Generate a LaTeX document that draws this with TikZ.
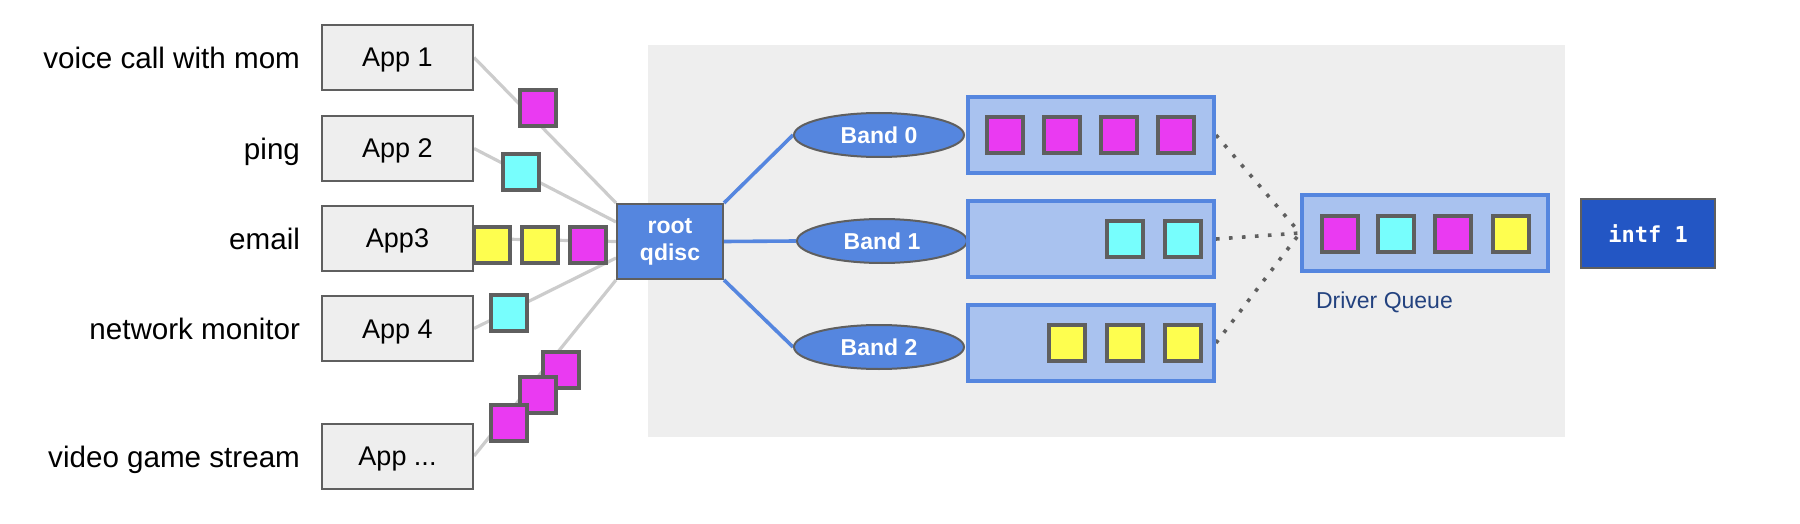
\documentclass[tikz,border=0pt]{standalone}
\usepackage{fontspec}
\setmainfont{Liberation Sans}
\setmonofont{DejaVu Sans Mono}
\usetikzlibrary{positioning,shapes.geometric,backgrounds}
\definecolor{bggray}{HTML}{EEEEEE}
\definecolor{edgegray}{HTML}{5F5F5F}
\definecolor{wiregray}{HTML}{CCCCCC}
\definecolor{pktpink}{HTML}{EA3AF2}
\definecolor{pktcyan}{HTML}{77FEFD}
\definecolor{pktyellow}{HTML}{FEFE4F}
\definecolor{qblue}{HTML}{5586DF}
\definecolor{qlight}{HTML}{A9C2EF}
\definecolor{intfblue}{HTML}{2356C4}
\definecolor{dqtext}{HTML}{23427F}

\begin{document}
\begin{tikzpicture}[x=0.5pt,y=-0.5pt,
  appbox/.style={draw=edgegray,fill=bggray,line width=1pt,minimum width=75.5pt,minimum height=32.5pt,
    text height=12.5pt,text depth=3pt,font=\fontsize{13.5}{16}\selectfont},
  applabel/.style={text height=14pt,text depth=3pt,font=\fontsize{14.8}{17}\selectfont},
  pkt/.style={draw=edgegray,line width=2pt,minimum size=18pt,inner sep=0pt},
  band/.style={ellipse,draw=edgegray,fill=qblue,line width=1pt,minimum width=85pt,minimum height=22pt,
    inner sep=0pt,text=white,font=\bfseries\fontsize{11.5}{14}\selectfont},
  queue/.style={draw=qblue,fill=qlight,line width=2pt,minimum width=123pt,minimum height=38pt},
  wire/.style={draw=wiregray,line width=1.6pt},
  link/.style={draw=qblue,line width=1.8pt},
  dots/.style={draw=edgegray,line width=1.8pt,dash pattern=on 1.8pt off 4.7pt}]
  \useasboundingbox (0,0) rectangle (1800,524);

  % applications and what they send
  \foreach \n/\y/\txt/\lbl in {1/57.5/App 1/voice call with mom, 2/148.5/App 2/ping,
      3/238.5/App3/email, 4/328.5/App 4/network monitor} {
    \node[appbox] (app\n) at (397.5,\y) {\txt};
    \node[applabel,left=7pt of app\n] (lbl\n) {\lbl};
  }
  \node[appbox] (app5) at (397.5,456) {App ...};
  \node[applabel,left=7pt of app5] (lbl5) {video game stream};
  \node[pkt,fill=pktpink] (a1p1) at (538,108) {};
  \node[pkt,fill=pktcyan] (a2p1) at (521,172) {};
  \node[pkt,fill=pktyellow] (a3p1) at (492,244.5) {};
  \node[pkt,fill=pktyellow] (a3p2) at (540,244.5) {};
  \node[pkt,fill=pktpink] (a3p3) at (588,244.5) {};
  \node[pkt,fill=pktcyan] (a4p1) at (509,313) {};
  \node[pkt,fill=pktpink] (a5p1) at (561,370) {};
  \node[pkt,fill=pktpink] (a5p2) at (538,395) {};
  \node[pkt,fill=pktpink] (a5p3) at (509,423) {};

  % qdisc and its bands
  \node[draw=edgegray,fill=qblue,line width=1pt,minimum width=53pt,minimum height=37.5pt,inner sep=0pt,
    text=white,align=center,font=\bfseries\fontsize{11.5}{13.5}\selectfont] (root) at (670,241.5) {root\\qdisc};
  \node[band] (band0) at (879,135) {Band 0};
  \node[band] (band1) at (882,241) {Band 1};
  \node[band] (band2) at (879,347) {Band 2};
  \node[queue] (q0) at (1091,135) {};
  \node[queue] (q1) at (1091,239) {};
  \node[queue] (q2) at (1091,343) {};
  \foreach \x [count=\i] in {1004.5,1062,1119,1176}
    \node[pkt,fill=pktpink] (q0p\i) at (\x,135.5) {};
  \foreach \x [count=\i] in {1124.5,1182.5}
    \node[pkt,fill=pktcyan] (q1p\i) at (\x,239) {};
  \foreach \x [count=\i] in {1067,1124.5,1182.5}
    \node[pkt,fill=pktyellow] (q2p\i) at (\x,343) {};

  % driver queue and interface
  \node[queue] (dq) at (1425,233) {};
  \foreach \x/\c [count=\i] in {1339.5/pktpink,1396/pktcyan,1453/pktpink,1510.5/pktyellow}
    \node[pkt,fill=\c] (dqp\i) at (\x,233.5) {};
  \node[anchor=west,text=dqtext,font=\fontsize{11.5}{14}\selectfont] (dqlabel) at (1309,302) {Driver Queue};
  \node[draw=edgegray,fill=intfblue,line width=1pt,minimum width=67pt,minimum height=34.5pt,
    text=white,font=\ttfamily\bfseries\fontsize{11}{13}\selectfont] (intf) at (1648,233.5) {intf 1};

  \begin{pgfonlayer}{background}
    \fill[bggray] (648,45) rectangle (1565,437);
    \draw[wire] (app1.east) -- (root.north west);
    \draw[wire] (app2.east) -- ([yshift=9.75pt]root.west);
    \draw[wire] (app3.east) -- (root.west);
    \draw[wire] (app4.east) -- ([yshift=-8.25pt]root.west);
    \draw[wire] (app5.east) -- (root.south west);
    \draw[link] (root.north east) -- (band0.west);
    \draw[link] (root.east) -- (band1.west);
    \draw[link] (root.south east) -- (band2.west);
    \draw[dots] (q0.east) -- (dq.west);
    \draw[dots] (q1.east) -- (dq.west);
    \draw[dots] (q2.east) -- (dq.west);
  \end{pgfonlayer}
\end{tikzpicture}
\end{document}
